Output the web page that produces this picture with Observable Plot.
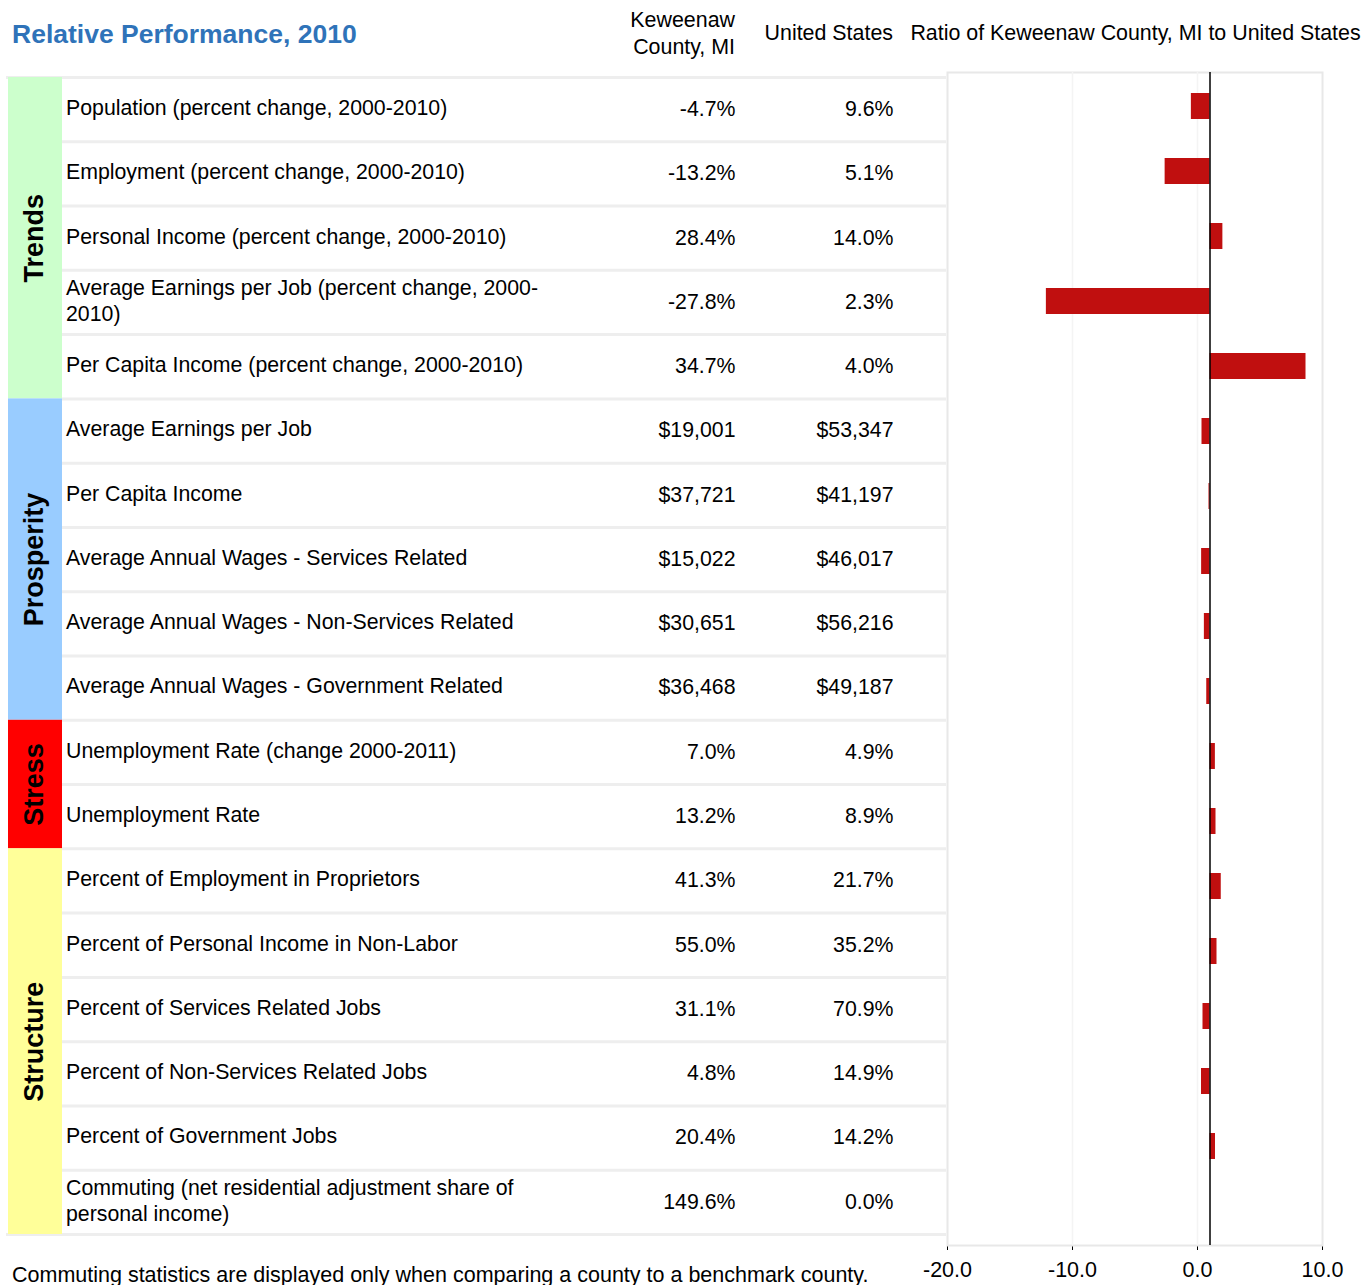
<!DOCTYPE html>
<html>
<head>
<meta charset="utf-8">
<script src="https://cdn.jsdelivr.net/npm/d3@7"></script>
<script src="https://cdn.jsdelivr.net/npm/@observablehq/plot@0.6"></script>
<style>
  html, body { margin: 0; padding: 0; background: white; }
  body { width: 1364px; height: 1285px; overflow: hidden; position: relative; font-family: "Liberation Sans", Arial, sans-serif; color: black; }
  .abs { position: absolute; white-space: nowrap; }
  #title { left: 12px; top: 18px; font-size: 26.5px; font-weight: bold; color: #2f73b9; line-height: 32px; }
  .hdr { font-size: 21.4px; line-height: 27px; }
  #footer { left: 12px; top: 1262px; font-size: 21.5px; line-height: 26px; }
  #left, #right { position: absolute; top: 0; }
  #left { left: 0; }
  #right { left: 900px; }
</style>
</head>
<body>
<div id="title" class="abs">Relative Performance, 2010</div>
<div class="abs hdr" style="right:629px; top:7px; text-align:right;">Keweenaw<br>County, MI</div>
<div class="abs hdr" style="right:471px; top:20px; text-align:right;">United States</div>
<div class="abs hdr" style="left:1135.5px; top:20px; transform:translateX(-50%);">Ratio of Keweenaw County, MI to United States</div>
<div id="left"></div>
<div id="right"></div>
<div id="footer" class="abs">Commuting statistics are displayed only when comparing a county to a benchmark county.</div>
<script>
const rowLabels = [
  "Population (percent change, 2000-2010)",
  "Employment (percent change, 2000-2010)",
  "Personal Income (percent change, 2000-2010)",
  "Average Earnings per Job (percent change, 2000-\n2010)",
  "Per Capita Income (percent change, 2000-2010)",
  "Average Earnings per Job",
  "Per Capita Income",
  "Average Annual Wages - Services Related",
  "Average Annual Wages - Non-Services Related",
  "Average Annual Wages - Government Related",
  "Unemployment Rate (change 2000-2011)",
  "Unemployment Rate",
  "Percent of Employment in Proprietors",
  "Percent of Personal Income in Non-Labor",
  "Percent of Services Related Jobs",
  "Percent of Non-Services Related Jobs",
  "Percent of Government Jobs",
  "Commuting (net residential adjustment share of\npersonal income)"
];
const countyValues = ["-4.7%","-13.2%","28.4%","-27.8%","34.7%","$19,001","$37,721","$15,022","$30,651","$36,468","7.0%","13.2%","41.3%","55.0%","31.1%","4.8%","20.4%","149.6%"];
const usValues = ["9.6%","5.1%","14.0%","2.3%","4.0%","$53,347","$41,197","$46,017","$56,216","$49,187","4.9%","8.9%","21.7%","35.2%","70.9%","14.9%","14.2%","0.0%"];
const ratios = [-0.49, -2.59, 2.03, -12.09, 8.68, 0.36, 0.92, 0.33, 0.55, 0.74, 1.43, 1.48, 1.90, 1.56, 0.44, 0.32, 1.44, null];
const categories = ["Trends","Prosperity","Stress","Structure"];
const categorySizes = [5, 5, 2, 6];
const categoryColors = ["#ccffcc","#99ccff","#ff0000","#ffff99"];
const xTicks = [-20, -10, 0, 10];
const baseline = 1;

const rows = rowLabels.map((label, i) => ({row: i, label, county: countyValues[i], us: usValues[i], ratio: ratios[i]}));
let acc = 0;
const groups = categories.map((name, i) => {
  const g = {name, start: acc, end: acc + categorySizes[i], color: categoryColors[i]};
  acc += categorySizes[i];
  return g;
});
const nRows = rowLabels.length;
const fontFamily = '"Liberation Sans", Arial, sans-serif';

const left = Plot.plot({
  width: 946, height: 1285,
  marginTop: 77, marginBottom: 51, marginLeft: 0, marginRight: 0,
  y: {domain: [0, nRows], reverse: true, axis: null},
  color: {type: "identity"},
  style: {background: "transparent", fontFamily, fontSize: "21px", color: "black"},
  marks: [
    Plot.ruleY(d3.range(1, nRows), {y: d => d, stroke: "#eeeeee", strokeWidth: 3, insetLeft: 62}),
    Plot.ruleY([0, nRows], {y: d => d, stroke: "#eeeeee", strokeWidth: 3, insetLeft: 6}),
    Plot.rect(groups, {y1: "start", y2: "end", fill: "color", insetLeft: 8, insetRight: 884}),
    Plot.text(groups, {y: d => (d.start + d.end) / 2, text: "name", frameAnchor: "left", dx: 34, rotate: -90,
      textAnchor: "middle", lineAnchor: "middle", fontSize: 27, fontWeight: "bold", fill: "black"}),
    Plot.text(rows, {y: d => d.row + 0.5, text: "label", frameAnchor: "left", dx: 65.5, dy: -3, textAnchor: "start",
      lineAnchor: "middle", lineHeight: 1.22, fontSize: 21.3, fill: "black"}),
    Plot.text(rows, {y: d => d.row + 0.5, text: "county", frameAnchor: "left", dx: 735, dy: -0.5, textAnchor: "end",
      lineAnchor: "middle", fontSize: 21.3, fill: "black"}),
    Plot.text(rows, {y: d => d.row + 0.5, text: "us", frameAnchor: "left", dx: 893, dy: -0.5, textAnchor: "end",
      lineAnchor: "middle", fontSize: 21.3, fill: "black"})
  ]
});
document.getElementById("left").appendChild(left);

const right = Plot.plot({
  width: 464, height: 1285,
  marginTop: 72, marginBottom: 40, marginLeft: 47, marginRight: 42,
  x: {domain: [-20, 10], ticks: xTicks, tickFormat: d => d.toFixed(1), tickSize: 5, tickPadding: 11, label: null, line: true},
  y: {type: "band", domain: rowLabels, paddingInner: 0.6, paddingOuter: 0.3, axis: null},
  style: {background: "transparent", fontFamily, fontSize: "21.5px", color: "black"},
  marks: [
    Plot.frame({stroke: "#e8e8e8", strokeWidth: 2}),
    Plot.ruleX([-10, 0], {stroke: "#f4f4f4", strokeWidth: 1.5}),
    Plot.barX(rows.filter(d => d.ratio != null), {y: "label", x1: baseline, x2: "ratio", fill: "#c00f0f"}),
    Plot.ruleX([baseline], {stroke: "black", strokeWidth: 1.5})
  ]
});
document.getElementById("right").appendChild(right);
</script>
</body>
</html>
